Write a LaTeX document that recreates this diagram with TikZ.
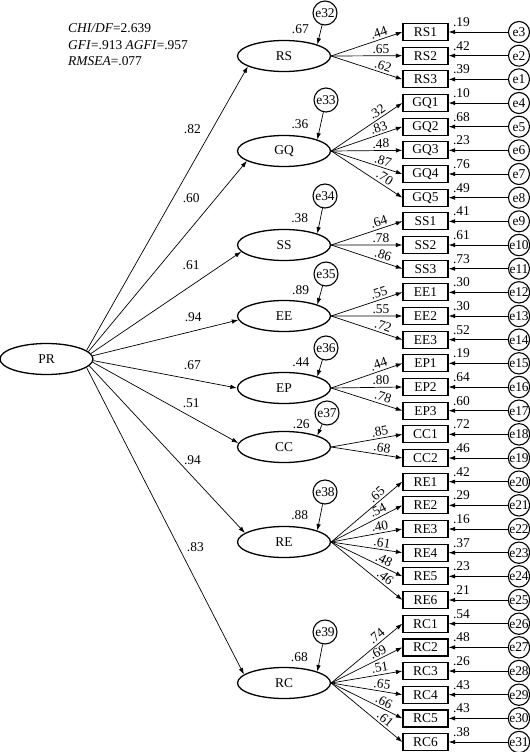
\documentclass[tikz,border=0pt]{standalone}
\usepackage{fontspec}
\setmainfont{Liberation Serif}
\usetikzlibrary{shapes.geometric,arrows.meta}
\newcommand\semfont{\fontsize{13.5}{17}\selectfont}
\tikzset{
  lat/.style={ellipse,draw,line width=1.3bp,minimum width=93bp,minimum height=31bp,inner sep=0pt,font=\semfont},
  obs/.style={rectangle,draw,line width=1.3bp,minimum width=45bp,minimum height=17bp,inner sep=0pt,font=\semfont},
  res/.style={circle,draw,line width=1.1bp,minimum size=21bp,inner sep=0pt,font=\semfont},
  dis/.style={res,minimum size=24bp},
  arr/.style={-{Latex[length=6.5bp,width=4.5bp]},line width=0.7bp},
  lbl/.style={font=\semfont,inner sep=1bp}
}

\begin{document}
\begin{tikzpicture}[x=1bp,y=-1bp]
\useasboundingbox (0,0) rectangle (530,752);
% fit indices
\node[lbl,align=left,anchor=north west,inner sep=0pt] (fit) at (68,23) {\textit{CHI/DF}=2.639\\\textit{GFI}=.913 \textit{AGFI}=.957\\\textit{RMSEA}=.077};
% latent variables
\node[lat] (PR) at (46.5,359) {PR};
\node[lat] (RS) at (284,56) {RS};
\node[lat] (GQ) at (284,151) {GQ};
\node[lat] (SS) at (284,245) {SS};
\node[lat] (EE) at (284,316) {EE};
\node[lat] (EP) at (284,388) {EP};
\node[lat] (CC) at (284,447) {CC};
\node[lat] (RE) at (284,542) {RE};
\node[lat] (RC) at (284,683) {RC};
% disturbances
\node[dis] (e32) at (325,13) {e32};
\node[dis] (e33) at (326,100) {e33};
\node[dis] (e34) at (325,196) {e34};
\node[dis] (e35) at (326,274) {e35};
\node[dis] (e36) at (326,348) {e36};
\node[dis] (e37) at (327,413) {e37};
\node[dis] (e38) at (325,492) {e38};
\node[dis] (e39) at (325,632) {e39};
\foreach \a/\lv/\b/\w/\p/\dx/\dy in {12/RS/196/.82/.78/-20/0, 10/GQ/195/.60/.8/-24/1, 7/SS/189/.61/.66/1/21, 4/EE/185/.94/.69/0/14, -2/EP/180/.67/.69/0/14.5, -4/CC/175/.51/.67/1/13, -9/RE/167/.94/.57/14.5/0.5, -12/RC/168/.83/.58/17.5/-2}
  \draw[arr] (PR.\a) -- node[lbl,pos=\p,xshift=\dx bp,yshift=\dy bp] {\w} (\lv.\b);
\foreach \d/\lv/\v/\p in {32/RS/.67/.2, 33/GQ/.36/.43, 34/SS/.38/.39, 35/EE/.89/.23, 36/EP/.44/.15, 37/CC/.26/0, 38/RE/.88/.41, 39/RC/.68/.47}
  \draw[arr] (e\d) -- node[lbl,pos=\p,left=11bp] {\v} (\lv.north east);
% indicators and errors
\foreach \k/\lv/\ob/\e/\ld/\rr in {1/RS/RS1/3/.44/.19, 2/RS/RS2/2/.65/.42, 3/RS/RS3/1/.62/.39,
    4/GQ/GQ1/4/.32/.10, 5/GQ/GQ2/5/.83/.68, 6/GQ/GQ3/6/.48/.23, 7/GQ/GQ4/7/.87/.76, 8/GQ/GQ5/8/.70/.49,
    9/SS/SS1/9/.64/.41, 10/SS/SS2/10/.78/.61, 11/SS/SS3/11/.86/.73,
    12/EE/EE1/12/.55/.30, 13/EE/EE2/13/.55/.30, 14/EE/EE3/14/.72/.52,
    15/EP/EP1/15/.44/.19, 16/EP/EP2/16/.80/.64, 17/EP/EP3/17/.78/.60,
    18/CC/CC1/18/.85/.72, 19/CC/CC2/19/.68/.46,
    20/RE/RE1/20/.65/.42, 21/RE/RE2/21/.54/.29, 22/RE/RE3/22/.40/.16, 23/RE/RE4/23/.61/.37, 24/RE/RE5/24/.48/.23, 25/RE/RE6/25/.46/.21,
    26/RC/RC1/26/.74/.54, 27/RC/RC2/27/.69/.48, 28/RC/RC3/28/.51/.26, 29/RC/RC4/29/.65/.43, 30/RC/RC5/30/.66/.43, 31/RC/RC6/31/.61/.38}{
  \node[obs] (\ob) at (425.5,{32+(\k-1)*23.667}) {\ob};
  \node[res] (e\e) at (519,{32+(\k-1)*23.667}) {e\e};
  \draw[arr] (\lv.east) -- node[lbl,pos=.7,sloped,above=1bp] {\ld} (\ob.west);
  \draw[arr] (e\e) -- node[lbl,pos=1,anchor=south west,xshift=3bp,yshift=4bp] {\rr} (\ob.east);
}
\end{tikzpicture}
\end{document}
